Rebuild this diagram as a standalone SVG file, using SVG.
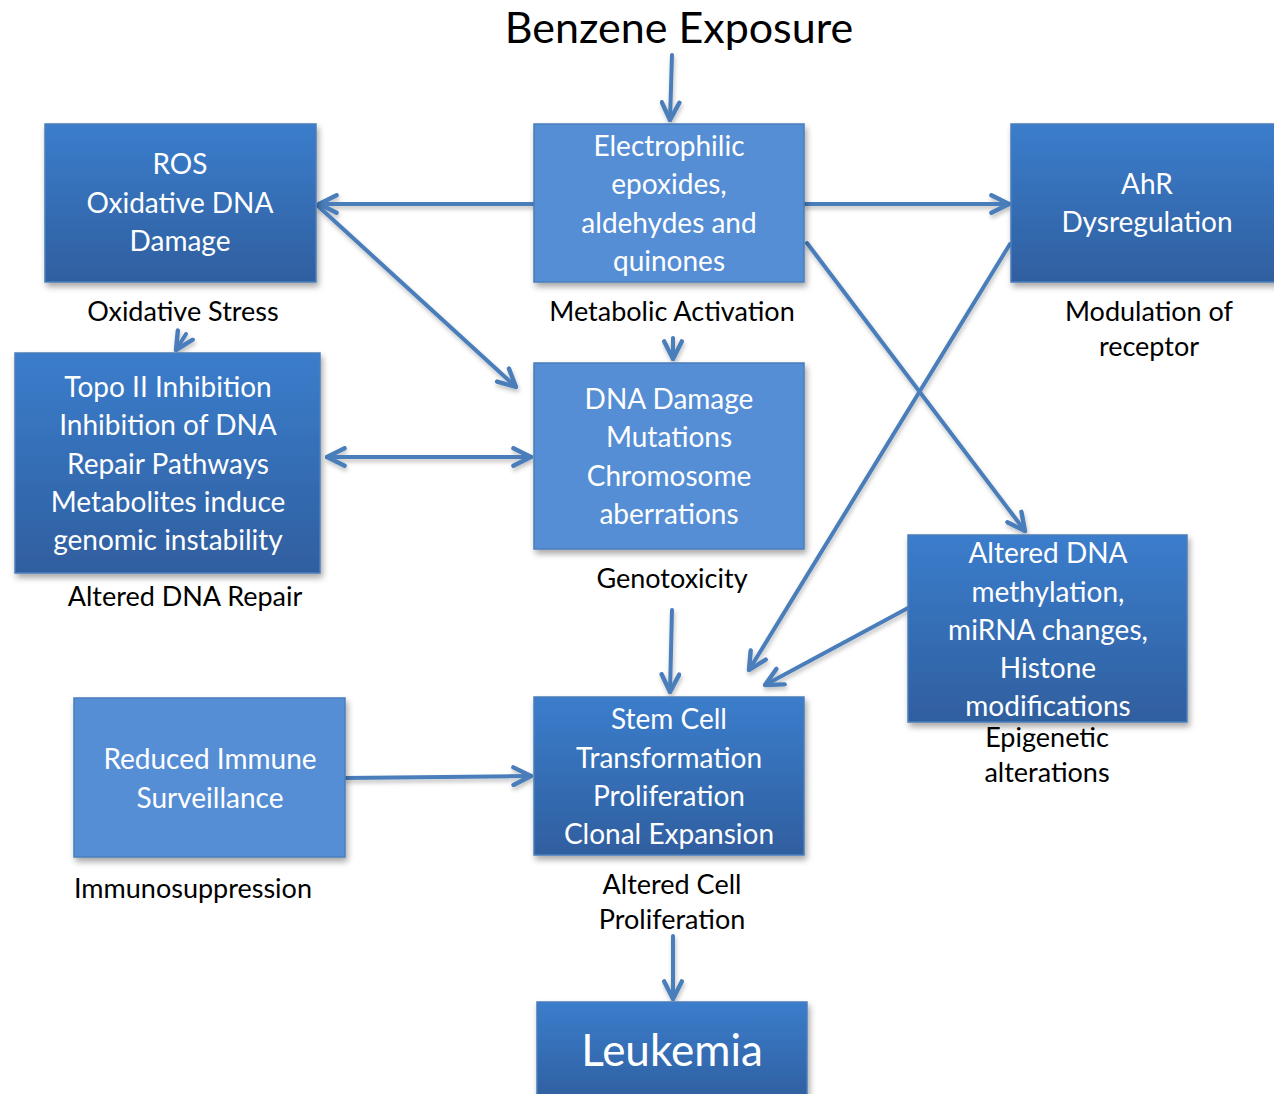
<svg xmlns="http://www.w3.org/2000/svg" width="1274" height="1094" viewBox="0 0 1274 1094">
<defs>
<linearGradient id="g" x1="0" y1="0" x2="0" y2="1">
<stop offset="0" stop-color="#3b7dcc"/>
<stop offset="1" stop-color="#2f5f9f"/>
</linearGradient>
<filter id="sh" x="-10%" y="-10%" width="125%" height="130%">
<feDropShadow dx="2" dy="4" stdDeviation="3" flood-color="#000" flood-opacity="0.35"/>
</filter>
<filter id="ash" filterUnits="userSpaceOnUse" x="0" y="0" width="1274" height="1094">
<feDropShadow dx="1" dy="3" stdDeviation="2" flood-color="#000" flood-opacity="0.25"/>
</filter>
<marker id="ah" viewBox="0 0 10 10" refX="9" refY="5" markerWidth="5.5" markerHeight="5.5" orient="auto-start-reverse" markerUnits="strokeWidth">
<path d="M1,1 L9,5 L1,9" fill="none" stroke="#4a7ebb" stroke-width="2" stroke-linecap="round" stroke-linejoin="round"/>
</marker>
</defs>
<style>
.dk{fill:url(#g);stroke:#4a7ebb;stroke-width:1.5;filter:url(#sh)}
.lt{fill:#558ed5;stroke:#4a7ebb;stroke-width:1.5;filter:url(#sh)}
.bt{font-family:Lato,"Open Sans","Liberation Sans",sans-serif;font-size:28px;fill:#fff;text-anchor:middle}
.big{font-size:44px}
.lb{font-family:Lato,"Open Sans","Liberation Sans",sans-serif;font-size:27px;fill:#000;text-anchor:middle}
.cn{fill:none;stroke:#4a7ebb;stroke-width:4;stroke-linecap:round;marker-end:url(#ah)}
</style>
<rect width="1274" height="1094" fill="#fff"/>
<text x="679" y="43" font-family="Lato,'Open Sans','Liberation Sans',sans-serif" font-size="43" fill="#000" text-anchor="middle">Benzene Exposure</text>

<g id="connectors" filter="url(#ash)">
<line class="cn" x1="672" y1="55" x2="670" y2="120"/>
<line class="cn" x1="534" y1="204" x2="319" y2="204"/>
<line class="cn" x1="804" y1="204" x2="1009" y2="204"/>
<line class="cn" x1="318" y1="206" x2="516" y2="387"/>
<line class="cn" x1="186" y1="334" x2="176" y2="350"/>
<line class="cn" x1="673" y1="338" x2="673" y2="359"/>
<line class="cn" x1="327" y1="457" x2="531" y2="457" marker-start="url(#ah)"/>
<line class="cn" x1="807" y1="243" x2="1025" y2="531"/>
<line class="cn" x1="1010" y1="244" x2="749" y2="670"/>
<line class="cn" x1="908" y1="608" x2="765" y2="685"/>
<line class="cn" x1="672" y1="610" x2="670" y2="692"/>
<line class="cn" x1="346" y1="778" x2="531" y2="776"/>
<line class="cn" x1="673" y1="936" x2="673" y2="999"/>
</g>

<g id="ros">
<rect class="dk" x="45" y="124" width="271" height="158"/>
<text class="bt" x="180" y="174">ROS</text>
<text class="bt" x="180" y="213">Oxidative DNA</text>
<text class="bt" x="180" y="251">Damage</text>
</g>
<g id="electrophilic">
<rect class="lt" x="534" y="124" width="270" height="158"/>
<text class="bt" x="669" y="156">Electrophilic</text>
<text class="bt" x="669" y="194">epoxides,</text>
<text class="bt" x="669" y="233">aldehydes and</text>
<text class="bt" x="669" y="271">quinones</text>
</g>
<g id="ahr">
<rect class="dk" x="1011" y="124" width="270" height="158"/>
<text class="bt" x="1147" y="194">AhR</text>
<text class="bt" x="1147" y="232">Dysregulation</text>
</g>
<g id="topo">
<rect class="dk" x="15" y="353" width="305" height="220"/>
<text class="bt" x="168" y="397">Topo II Inhibition</text>
<text class="bt" x="168" y="435">Inhibition of DNA</text>
<text class="bt" x="168" y="474">Repair Pathways</text>
<text class="bt" x="168" y="512">Metabolites induce</text>
<text class="bt" x="168" y="550">genomic instability</text>
</g>
<g id="dnadamage">
<rect class="lt" x="534" y="363" width="270" height="186"/>
<text class="bt" x="669" y="409">DNA Damage</text>
<text class="bt" x="669" y="447">Mutations</text>
<text class="bt" x="669" y="486">Chromosome</text>
<text class="bt" x="669" y="524">aberrations</text>
</g>
<g id="epigenetic">
<rect class="dk" x="908" y="535" width="279" height="187"/>
<text class="bt" x="1048" y="563">Altered DNA</text>
<text class="bt" x="1048" y="602">methylation,</text>
<text class="bt" x="1048" y="640">miRNA changes,</text>
<text class="bt" x="1048" y="678">Histone</text>
<text class="bt" x="1048" y="716">modifications</text>
</g>
<g id="immune">
<rect class="lt" x="74" y="698" width="271" height="159"/>
<text class="bt" x="210" y="769">Reduced Immune</text>
<text class="bt" x="210" y="808">Surveillance</text>
</g>
<g id="stemcell">
<rect class="dk" x="534" y="697" width="270" height="158"/>
<text class="bt" x="669" y="729">Stem Cell</text>
<text class="bt" x="669" y="768">Transformation</text>
<text class="bt" x="669" y="806">Proliferation</text>
<text class="bt" x="669" y="844">Clonal Expansion</text>
</g>
<g id="leukemia">
<rect class="dk" x="537" y="1002" width="270" height="100"/>
<text class="bt big" x="672" y="1066">Leukemia</text>
</g>

<g id="labels">
<text class="lb" x="183" y="321">Oxidative Stress</text>
<text class="lb" x="672" y="321">Metabolic Activation</text>
<text class="lb" x="1149" y="321">Modulation of</text>
<text class="lb" x="1149" y="356">receptor</text>
<text class="lb" x="185" y="606">Altered DNA Repair</text>
<text class="lb" x="672" y="588">Genotoxicity</text>
<text class="lb" x="1047" y="747">Epigenetic</text>
<text class="lb" x="1047" y="782">alterations</text>
<text class="lb" x="193" y="898">Immunosuppression</text>
<text class="lb" x="672" y="894">Altered Cell</text>
<text class="lb" x="672" y="929">Proliferation</text>
</g>
</svg>
